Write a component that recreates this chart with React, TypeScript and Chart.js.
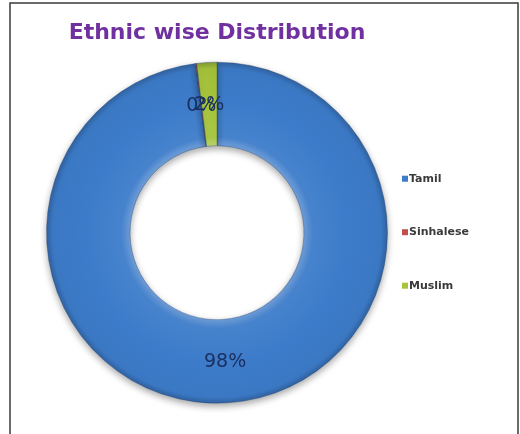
import React, { useEffect, useRef } from "react";
import { Chart, registerables } from "chart.js";

Chart.register(...registerables);

const categories = ["Tamil", "Sinhalese", "Muslim"];
const shares = [98.0, 0.1, 1.9];
const sliceColors = ["#3d7cca", "#c0504d", "#a6c53c"];
const titleText = "Ethnic wise Distribution";

function shade(hex: string, amt: number): string {
  const n = parseInt(hex.slice(1), 16);
  let r = (n >> 16) & 255, g = (n >> 8) & 255, b = n & 255;
  const f = (c: number) =>
    Math.max(0, Math.min(255, Math.round(amt >= 0 ? c + (255 - c) * amt : c * (1 + amt))));
  r = f(r); g = f(g); b = f(b);
  return `rgb(${r},${g},${b})`;
}

const CUTOUT = 0.51;

export default function App() {
  const ref = useRef<HTMLCanvasElement>(null);

  useEffect(() => {
    const canvas = ref.current;
    if (!canvas) return;

    const framePlugin = {
      id: "frame",
      beforeDraw(chart: any) {
        const ctx = chart.ctx;
        ctx.save();
        ctx.fillStyle = "#ffffff";
        ctx.fillRect(0, 0, chart.width, chart.height);
        ctx.strokeStyle = "#3a3a3a";
        ctx.lineWidth = 1.5;
        ctx.strokeRect(10, 3, 508, chart.height + 20);
        ctx.restore();
      },
    };

    const shadowAndLabels = {
      id: "shadowAndLabels",
      beforeDatasetsDraw(chart: any) {
        const ctx = chart.ctx;
        ctx.save();
        ctx.shadowColor = "rgba(0,0,0,0.35)";
        ctx.shadowBlur = 7;
        ctx.shadowOffsetY = 3;
      },
      afterDatasetsDraw(chart: any) {
        const ctx = chart.ctx;
        ctx.restore();
        const meta = chart.getDatasetMeta(0);
        const values = chart.data.datasets[0].data as number[];
        const total = values.reduce((a, b) => a + b, 0);
        ctx.save();
        ctx.font = '19px "DejaVu Sans"';
        ctx.fillStyle = "#1b2f5e";
        ctx.textAlign = "center";
        ctx.textBaseline = "middle";
        meta.data.forEach((arc: any, i: number) => {
          const p = arc.getCenterPoint();
          const pct = Math.round((values[i] / total) * 100) + "%";
          ctx.fillText(pct, p.x, p.y + 1);
        });
        ctx.restore();
      },
    };

    const sideLegend = {
      id: "sideLegend",
      afterDraw(chart: any) {
        const ctx = chart.ctx;
        const area = chart.chartArea;
        const cy = (area.top + area.bottom) / 2;
        const step = 53.5;
        const x = 402;
        const labels = chart.data.labels as string[];
        ctx.save();
        ctx.font = 'bold 11px "DejaVu Sans"';
        ctx.textBaseline = "middle";
        ctx.textAlign = "left";
        labels.forEach((lab, i) => {
          const y = cy + (i - (labels.length - 1) / 2) * step - 0.5;
          ctx.fillStyle = sliceColors[i];
          ctx.fillRect(x, y - 3, 6, 6);
          ctx.fillStyle = "#3a3a3a";
          ctx.fillText(lab, x + 7, y);
        });
        ctx.restore();
      },
    };

    const chart = new Chart(canvas, {
      type: "doughnut",
      data: {
        labels: categories,
        datasets: [
          {
            data: shares,
            backgroundColor: (c: any) => {
              const ch = c.chart;
              const area = ch.chartArea;
              const base = sliceColors[c.dataIndex];
              if (!area) return base;
              const cx = (area.left + area.right) / 2;
              const cy = (area.top + area.bottom) / 2;
              const outer = Math.min(area.right - area.left, area.bottom - area.top) / 2;
              const inner = outer * CUTOUT;
              const g = ch.ctx.createRadialGradient(cx, cy, inner, cx, cy, outer);
              g.addColorStop(0, shade(base, 0.25));
              g.addColorStop(0.1, shade(base, 0.05));
              g.addColorStop(0.5, base);
              g.addColorStop(0.92, shade(base, -0.03));
              g.addColorStop(1, shade(base, -0.22));
              return g;
            },
            borderColor: "rgba(30,60,110,0.35)",
            borderWidth: 1,
          },
        ],
      },
      options: {
        responsive: false,
        maintainAspectRatio: false,
        animation: false,
        cutout: "51%",
        layout: { padding: { left: 46, right: 132, top: 0, bottom: 30 } },
        plugins: {
          legend: { display: false },
          tooltip: { enabled: false },
          title: {
            display: true,
            text: titleText,
            color: "#7030a0",
            font: { family: "DejaVu Sans", weight: "bold", size: 22 },
            padding: { top: 20, bottom: 15 },
          },
        },
      },
      plugins: [framePlugin, shadowAndLabels, sideLegend],
    } as any);

    return () => chart.destroy();
  }, []);

  return (
    <div style={{ position: "absolute", left: 0, top: 0, width: 520, height: 434 }}>
      <canvas ref={ref} width={520} height={434} />
    </div>
  );
}
